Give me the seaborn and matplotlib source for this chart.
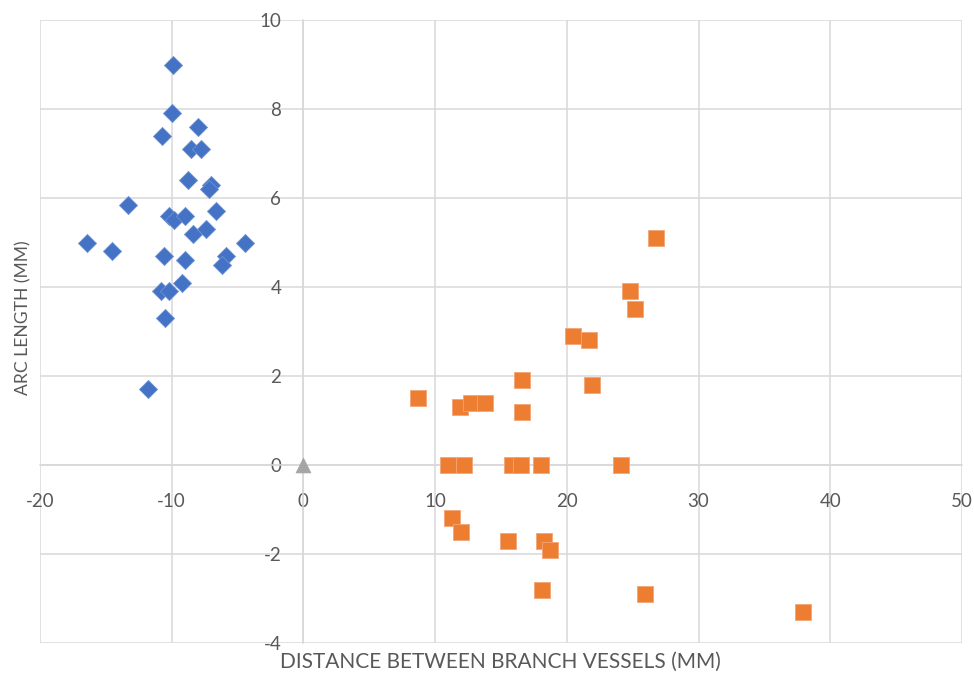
import matplotlib
matplotlib.use("Agg")
import matplotlib.pyplot as plt
import seaborn as sns
import pandas as pd

# Series 1: blue diamonds
s1_x = [-9.9, -10.0, -8.0, -10.7, -8.5, -7.8, -8.8, -7.0, -7.2, -13.3, -6.6,
        -10.2, -9.8, -9.0, -8.4, -7.4, -16.4, -14.5, -4.4, -10.6, -9.0, -5.9,
        -6.2, -9.2, -10.8, -10.2, -10.5, -11.8]
s1_y = [9.0, 7.9, 7.6, 7.4, 7.1, 7.1, 6.4, 6.3, 6.2, 5.85, 5.7,
        5.6, 5.5, 5.6, 5.2, 5.3, 5.0, 4.8, 5.0, 4.7, 4.6, 4.7,
        4.5, 4.1, 3.9, 3.9, 3.3, 1.7]

# Series 2: orange squares
s2_x = [26.8, 24.8, 25.2, 20.5, 21.7, 16.6, 21.9, 8.7, 11.9, 12.7, 13.8, 16.6,
        11.0, 12.2, 15.8, 16.5, 18.0, 24.1,
        11.3, 12.0, 15.5, 18.3, 18.7, 18.1, 25.9, 37.9]
s2_y = [5.1, 3.9, 3.5, 2.9, 2.8, 1.9, 1.8, 1.5, 1.3, 1.4, 1.4, 1.2,
        0.0, 0.0, 0.0, 0.0, 0.0, 0.0,
        -1.2, -1.5, -1.7, -1.7, -1.9, -2.8, -2.9, -3.3]

# Series 3: grey triangle at the origin
s3_x = [0.0]
s3_y = [0.0]

x_ticks = [-20, -10, 0, 10, 20, 30, 40, 50]
y_ticks = [-4, -2, 0, 2, 4, 6, 8, 10]

df1 = pd.DataFrame({"x": s1_x, "y": s1_y})
df2 = pd.DataFrame({"x": s2_x, "y": s2_y})
df3 = pd.DataFrame({"x": s3_x, "y": s3_y})

sns.set_theme(style="white")
plt.rcParams["font.family"] = ["Lato", "DejaVu Sans"]

fig = plt.figure(figsize=(9.74, 6.75), dpi=100)
ax = fig.add_axes([40 / 974, 1 - 643 / 675, 922 / 974, 623 / 675])

grid_c = "#D9D9D9"
text_c = "#595959"

sns.scatterplot(data=df2, x="x", y="y", marker="s", s=125, color="#ED7D31",
                edgecolor="#F4A576", linewidth=0.6, ax=ax, zorder=3)
sns.scatterplot(data=df1, x="x", y="y", marker="D", s=85, color="#4472C4",
                edgecolor="#6E92D4", linewidth=0.6, ax=ax, zorder=4)
sns.scatterplot(data=df3, x="x", y="y", marker="^", s=115, color="#A5A5A5",
                edgecolor="#A5A5A5", linewidth=0.5, ax=ax, zorder=4)

ax.set_xlim(-20, 50)
ax.set_ylim(-4, 10)
ax.set_xticks(x_ticks)
ax.set_yticks(y_ticks)
ax.set_xticklabels([str(v) for v in x_ticks])
ax.set_yticklabels([str(v) for v in y_ticks])

ax.grid(True, color=grid_c, linewidth=1.1, zorder=0)
ax.set_axisbelow(True)

# Axes cross at the origin, drawn in the gridline colour
ax.spines["left"].set_position(("data", 0))
ax.spines["bottom"].set_position(("data", 0))
for side in ["left", "bottom"]:
    ax.spines[side].set_color(grid_c)
    ax.spines[side].set_linewidth(1.1)
for side in ["top", "right"]:
    ax.spines[side].set_visible(False)

ax.tick_params(axis="both", length=0, labelsize=13.5, labelcolor=text_c)
ax.tick_params(axis="x", pad=20.5)
ax.tick_params(axis="y", pad=16)

ax.set_xlabel("")
ax.set_ylabel("")
fig.text(500 / 974, 1 - 662 / 675, "DISTANCE BETWEEN BRANCH VESSELS (MM)",
         ha="center", va="center", fontsize=15, color=text_c)
fig.text(23 / 974, 1 - 318 / 675, "ARC LENGTH (MM)", rotation=90,
         ha="center", va="center", fontsize=12.6, color=text_c)

fig.savefig("out.png", dpi=100)
